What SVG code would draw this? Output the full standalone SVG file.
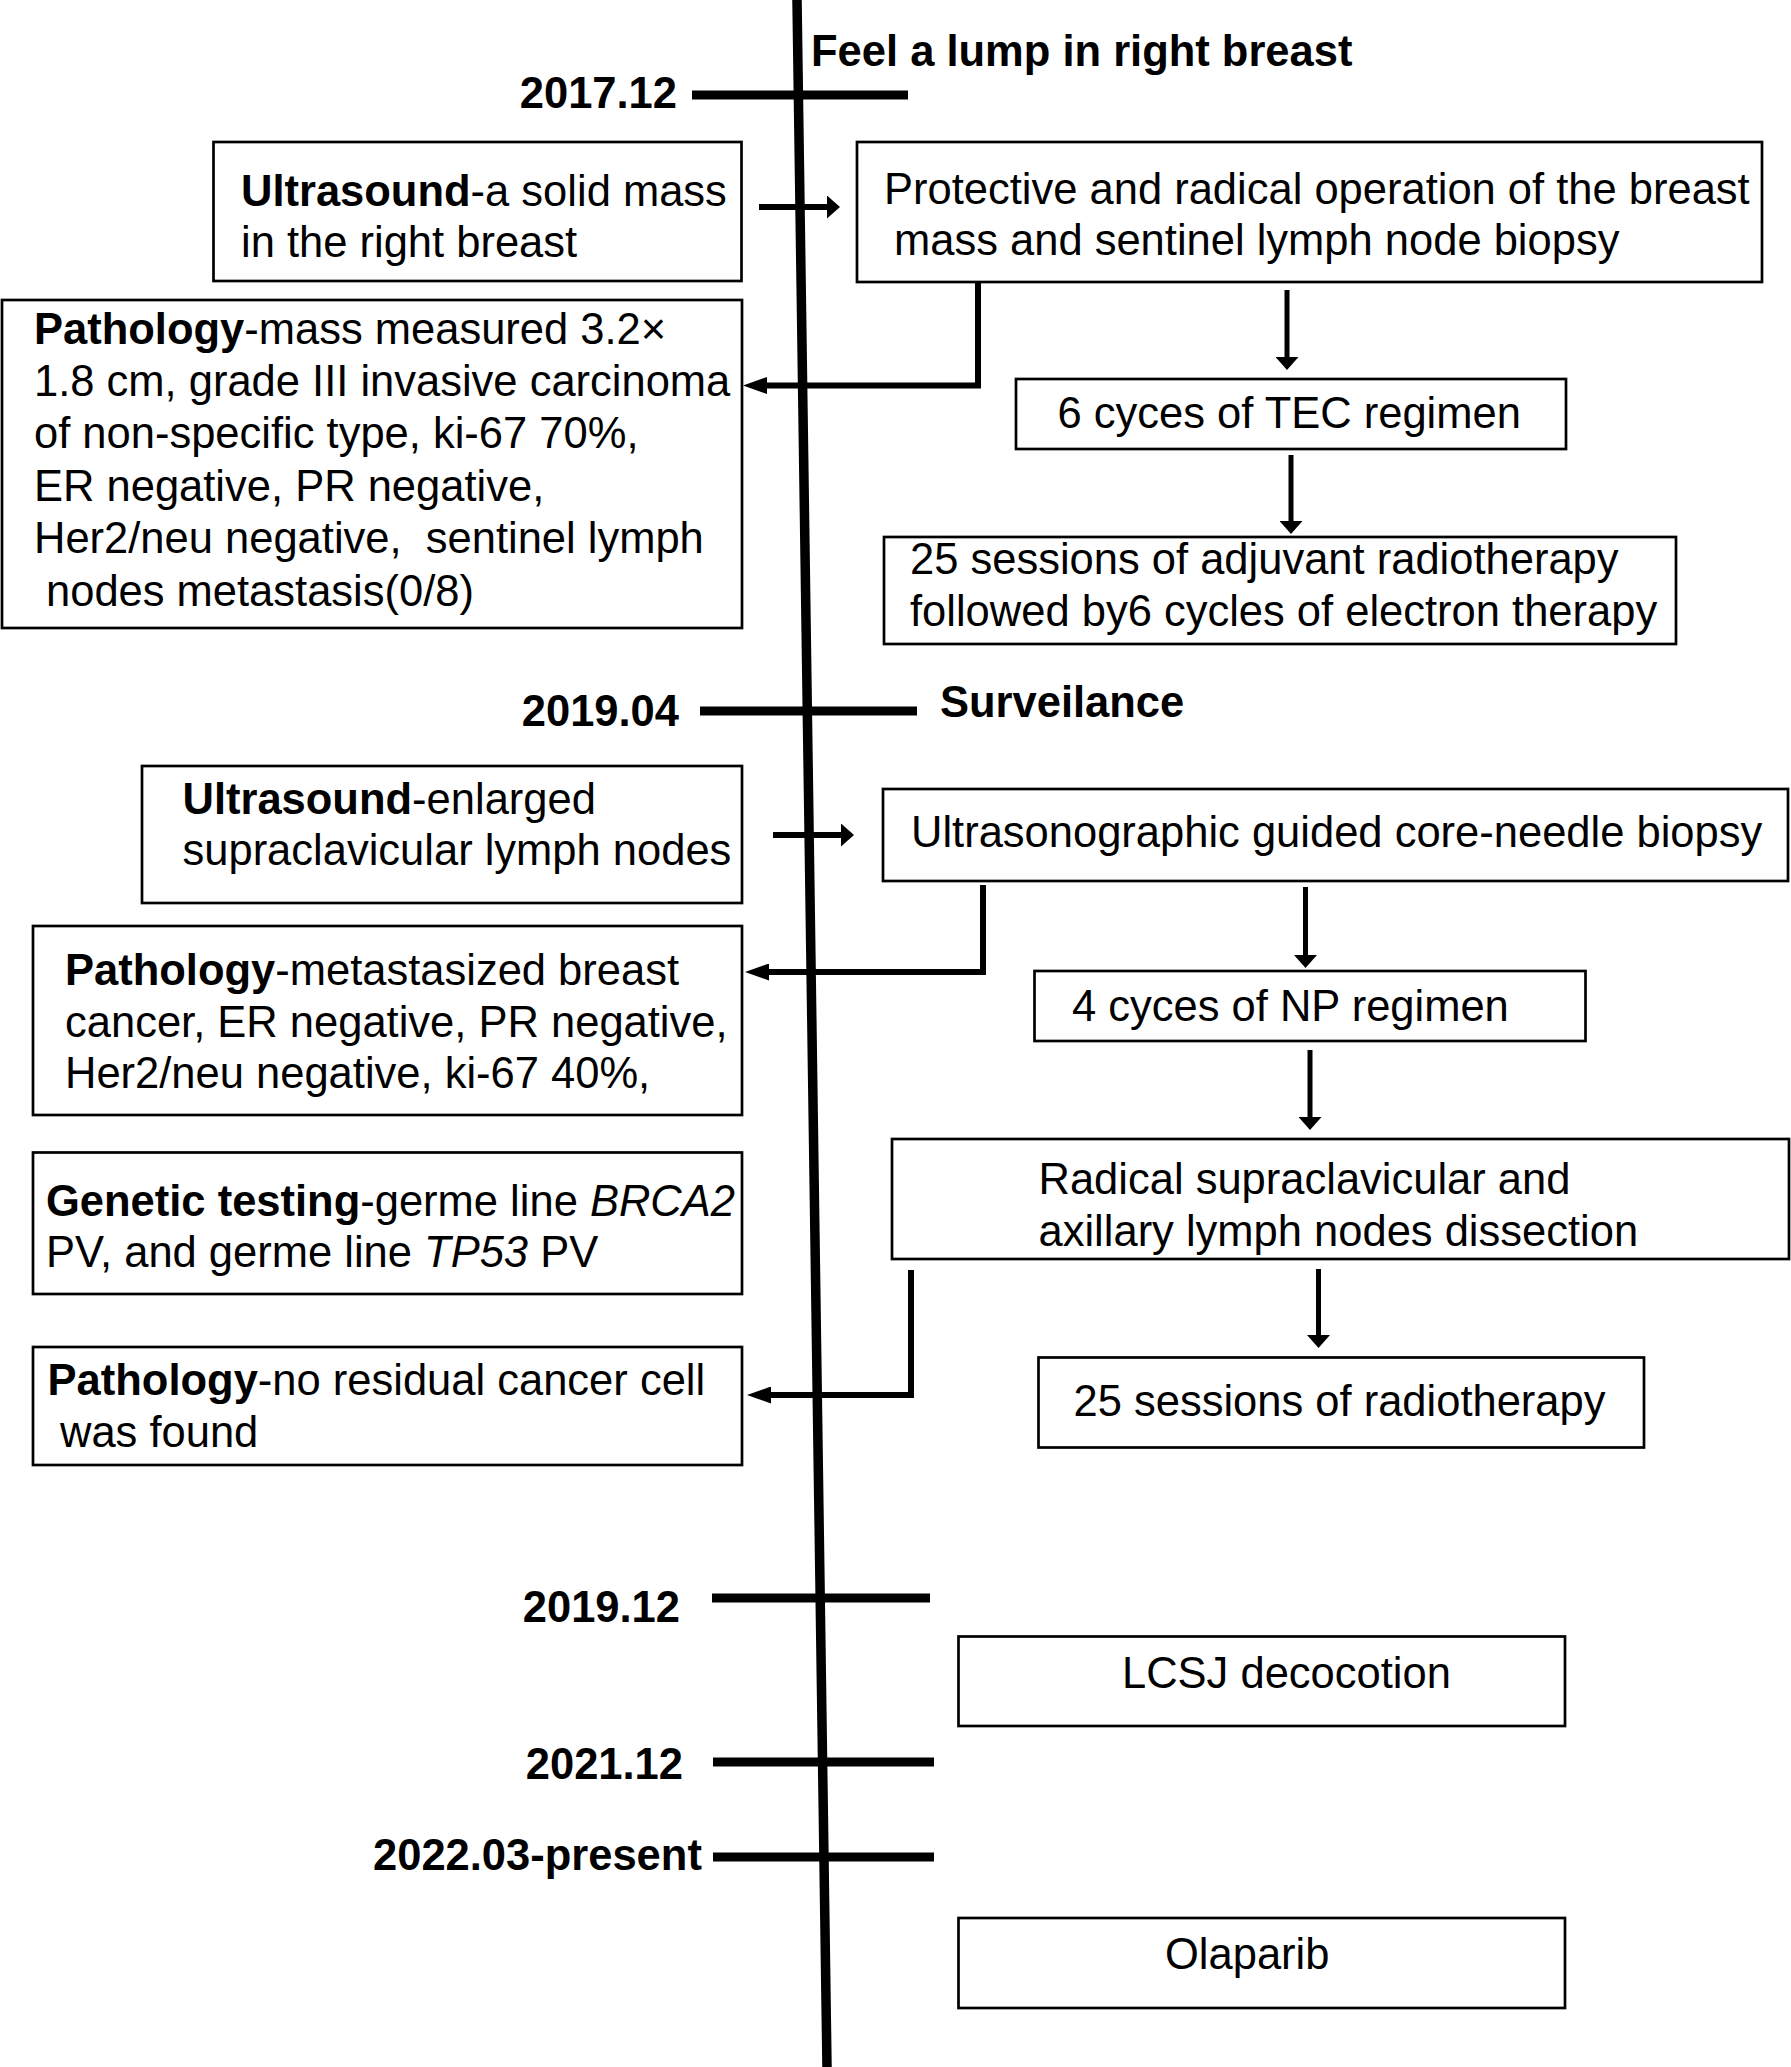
<svg xmlns="http://www.w3.org/2000/svg" width="1791" height="2067" viewBox="0 0 1791 2067">
<style>
text{font-family:"Liberation Sans",Arial,Helvetica,sans-serif;font-size:43.5px;fill:#000}
.b{font-weight:bold}
.i{font-style:italic}
.box{fill:#fff;stroke:#000;stroke-width:2.7}
.tick{stroke:#000;stroke-width:9}
.con{stroke:#000;stroke-width:5;fill:none}
.elb{stroke:#000;stroke-width:6;fill:none}
</style>
<defs>
<marker id="ah" markerUnits="userSpaceOnUse" markerWidth="13" markerHeight="23" refX="2" refY="11.5" orient="auto" viewBox="0 0 13 23">
<path d="M0,0 L13,11.5 L0,23 z" fill="#000"/>
</marker>
<marker id="ae" markerUnits="userSpaceOnUse" markerWidth="24" markerHeight="17" refX="2" refY="8.5" orient="auto" viewBox="0 0 24 17">
<path d="M0,0 L24,8.5 L0,17 z" fill="#000"/>
</marker>
</defs>
<rect width="1791" height="2067" fill="#fff"/>

<g id="timeline">
<line x1="797" y1="0" x2="827" y2="2067" stroke="#000" stroke-width="9.5"/>
<line class="tick" x1="692" y1="95" x2="908" y2="95"/>
<line class="tick" x1="700" y1="711" x2="917" y2="711"/>
<line class="tick" x1="712" y1="1598" x2="930" y2="1598"/>
<line class="tick" x1="713" y1="1762" x2="934" y2="1762"/>
<line class="tick" x1="713" y1="1857" x2="934" y2="1857"/>
<text class="b" x="677" y="108" text-anchor="end">2017.12</text>
<text class="b" x="679" y="726" text-anchor="end">2019.04</text>
<text class="b" x="680" y="1622" text-anchor="end">2019.12</text>
<text class="b" x="683" y="1779" text-anchor="end">2021.12</text>
<text class="b" x="373" y="1870">2022.03-present</text>
<text class="b" x="811" y="66">Feel a lump in right breast</text>
<text class="b" x="940" y="717">Surveilance</text>
</g>

<g id="connectors">
<line class="elb" x1="759" y1="207" x2="829" y2="207" marker-end="url(#ah)"/>
<polyline class="elb" points="978,282 978,385.5 765,385.5" marker-end="url(#ae)"/>
<line class="con" x1="1287" y1="290" x2="1287" y2="359" marker-end="url(#ah)"/>
<line class="con" x1="1291" y1="455" x2="1291" y2="523" marker-end="url(#ah)"/>
<line class="elb" x1="773" y1="835" x2="843" y2="835" marker-end="url(#ah)"/>
<polyline class="elb" points="983,885 983,972 767,972" marker-end="url(#ae)"/>
<line class="con" x1="1305.5" y1="887" x2="1305.5" y2="957" marker-end="url(#ah)"/>
<line class="con" x1="1310" y1="1050" x2="1310" y2="1119" marker-end="url(#ah)"/>
<polyline class="elb" points="911,1270 911,1395 769,1395" marker-end="url(#ae)"/>
<line class="con" x1="1318.5" y1="1269" x2="1318.5" y2="1337" marker-end="url(#ah)"/>
</g>

<g id="us1">
<rect class="box" x="213.5" y="142" width="528" height="139"/>
<text x="241" y="205.5"><tspan class="b">Ultrasound</tspan>-a solid mass</text>
<text x="241" y="257">in the right breast</text>
</g>

<g id="op">
<rect class="box" x="857" y="142" width="905" height="140"/>
<text x="884" y="204">Protective and radical operation of the breast</text>
<text x="894" y="255">mass and sentinel lymph node biopsy</text>
</g>

<g id="path1">
<rect class="box" x="2" y="300" width="740" height="328"/>
<text x="34" y="344.4"><tspan class="b">Pathology</tspan>-mass measured 3.2×</text>
<text x="34" y="396">1.8 cm, grade III invasive carcinoma</text>
<text x="34" y="448">of non-specific type, ki-67 70%,</text>
<text x="34" y="500.6">ER negative, PR negative,</text>
<text x="34" y="553">Her2/neu negative,&#160; sentinel lymph</text>
<text x="46" y="605.6">nodes metastasis(0/8)</text>
</g>

<g id="tec">
<rect class="box" x="1016" y="379" width="550" height="70"/>
<text x="1057.5" y="427.7">6 cyces of TEC regimen</text>
</g>

<g id="rt1">
<rect class="box" x="884" y="537" width="792" height="107"/>
<text x="910" y="574">25 sessions of adjuvant radiotherapy</text>
<text x="910" y="626">followed by6 cycles of electron therapy</text>
</g>

<g id="us2">
<rect class="box" x="142" y="766" width="600" height="137"/>
<text x="182.5" y="814"><tspan class="b">Ultrasound</tspan>-enlarged</text>
<text x="182.5" y="864.5">supraclavicular lymph nodes</text>
</g>

<g id="biopsy">
<rect class="box" x="883" y="789" width="905" height="92"/>
<text x="911" y="847">Ultrasonographic guided core-needle biopsy</text>
</g>

<g id="path2">
<rect class="box" x="33" y="926" width="709" height="189"/>
<text x="65" y="985"><tspan class="b">Pathology</tspan>-metastasized breast</text>
<text x="65" y="1036.6">cancer, ER negative, PR negative,</text>
<text x="65" y="1088">Her2/neu negative, ki-67 40%,</text>
</g>

<g id="np">
<rect class="box" x="1034.5" y="971" width="551" height="70"/>
<text x="1072" y="1020.5">4 cyces of NP regimen</text>
</g>

<g id="radical">
<rect class="box" x="892" y="1139" width="897" height="120"/>
<text x="1038.5" y="1194.4">Radical supraclavicular and</text>
<text x="1038.5" y="1246">axillary lymph nodes dissection</text>
</g>

<g id="genetic">
<rect class="box" x="33" y="1152.5" width="709" height="141.5"/>
<text x="46" y="1215.7"><tspan class="b">Genetic testing</tspan>-germe line <tspan class="i">BRCA2</tspan></text>
<text x="46" y="1267">PV, and germe line <tspan class="i">TP53</tspan> PV</text>
</g>

<g id="path3">
<rect class="box" x="33" y="1347" width="709" height="118"/>
<text x="47.6" y="1395"><tspan class="b">Pathology</tspan>-no residual cancer cell</text>
<text x="60" y="1447">was found</text>
</g>

<g id="rt2">
<rect class="box" x="1038.5" y="1357.5" width="605.5" height="90"/>
<text x="1073.5" y="1415.5">25 sessions of radiotherapy</text>
</g>

<g id="lcsj">
<rect class="box" x="958.5" y="1636.5" width="606.5" height="89.5"/>
<text x="1122" y="1688">LCSJ decocotion</text>
</g>

<g id="olaparib">
<rect class="box" x="958.5" y="1918" width="606.5" height="90"/>
<text x="1165" y="1969">Olaparib</text>
</g>
</svg>
